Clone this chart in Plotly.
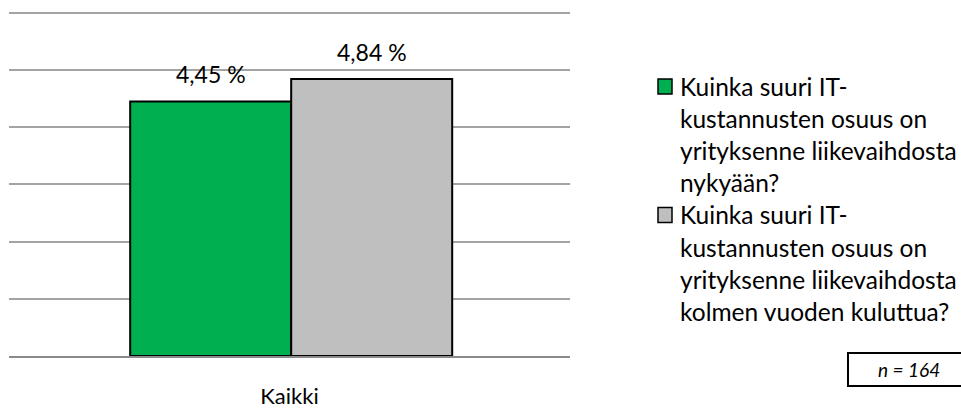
import plotly.graph_objects as go

categories = ["Kaikki"]
series_names = [
    "Kuinka suuri IT-kustannusten osuus on yrityksenne liikevaihdosta nykyään?",
    "Kuinka suuri IT-kustannusten osuus on yrityksenne liikevaihdosta kolmen vuoden kuluttua?",
]
legend_lines = [
    ["Kuinka suuri IT-", "kustannusten osuus on", "yrityksenne liikevaihdosta", "nykyään?"],
    ["Kuinka suuri IT-", "kustannusten osuus on", "yrityksenne liikevaihdosta", "kolmen vuoden kuluttua?"],
]
values_now = [4.45]
values_3y = [4.84]
colors = ["#00B050", "#BFBFBF"]
n_text = "n = 164"

FONT = "Lato"
W, H = 961, 408
L, R, T, B = 9, 391, 11, 52
pw = W - L - R
ph = H - T - B

def px_x(px):
    return (px - L) / pw

def px_y(py):
    return (H - B - py) / ph

bw = 0.287
shift = 0.003
fig = go.Figure()
for vals, name, col, off in [(values_now, series_names[0], colors[0], -bw + shift),
                             (values_3y, series_names[1], colors[1], shift)]:
    fig.add_trace(go.Bar(
        x=categories, y=vals, name=name, width=bw, offset=off,
        marker=dict(color=col, line=dict(color="black", width=2)),
        showlegend=False, hoverinfo="skip",
    ))

annotations = []
for vals, off in [(values_now, -bw / 2 + shift), (values_3y, bw / 2 + shift)]:
    for i, v in enumerate(vals):
        annotations.append(dict(
            x=i + off, y=v, xref="x", yref="y",
            text=f"{v:.2f} %".replace(".", ","),
            showarrow=False, yanchor="bottom", yshift=11,
            font=dict(family=FONT, size=23, color="black"),
        ))

shapes = []
line_h = 32.1
start_y = 86.5
for si, lines in enumerate(legend_lines):
    for li, txt in enumerate(lines):
        k = si * 4 + li
        cy = start_y + k * line_h
        annotations.append(dict(
            x=px_x(678), y=px_y(cy), xref="paper", yref="paper",
            text=txt, showarrow=False, xanchor="left", yanchor="middle",
            font=dict(family=FONT, size=24.5, color="black"),
        ))
    cy = start_y + si * 4 * line_h
    shapes.append(dict(
        type="rect", xref="paper", yref="paper",
        x0=px_x(658), x1=px_x(672), y0=px_y(cy + 7.5), y1=px_y(cy - 7.5),
        fillcolor=colors[si], line=dict(color="black", width=1.5),
    ))

# n box
shapes.append(dict(
    type="rect", xref="paper", yref="paper",
    x0=px_x(848), x1=px_x(975), y0=px_y(386), y1=px_y(353),
    fillcolor="white", line=dict(color="black", width=2),
))
annotations.append(dict(
    x=px_x(909), y=px_y(369.5), xref="paper", yref="paper",
    text=f"<i>{n_text}</i>", showarrow=False, xanchor="center", yanchor="middle",
    font=dict(family=FONT, size=19, color="black"),
))

fig.update_layout(
    width=W, height=H,
    margin=dict(l=L, r=R, t=T, b=B, pad=0),
    paper_bgcolor="white", plot_bgcolor="white",
    barmode="overlay",
    annotations=annotations, shapes=shapes,
    font=dict(family=FONT, color="black"),
)
fig.update_xaxes(
    range=[-0.5, 0.5], showgrid=False, showline=True, linecolor="#8a8a8a", linewidth=2,
    ticks="outside", ticklen=20, tickcolor="rgba(0,0,0,0)", automargin=False,
    tickfont=dict(family=FONT, size=22, color="black"),
)
fig.update_yaxes(
    range=[0, 6.03], dtick=1, showgrid=True, gridcolor="#a3a3a3", gridwidth=1.5,
    showticklabels=False, zeroline=False, showline=False, automargin=False,
)
fig.write_html(
    "out.html",
    config={"displayModeBar": False},
    post_script="document.body.style.margin='0';document.body.style.overflow='hidden';",
)
